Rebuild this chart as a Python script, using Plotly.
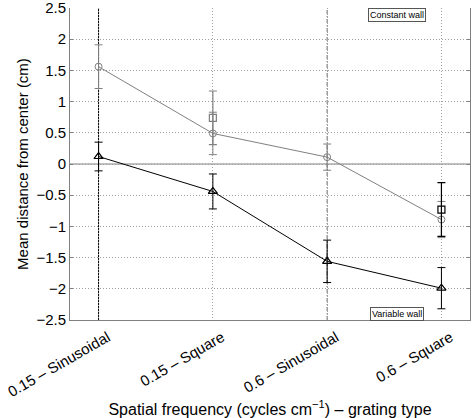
import plotly.graph_objects as go

categories = ["0.15 – Sinusoidal", "0.15 – Square", "0.6 – Sinusoidal", "0.6 – Square"]
x_pos = [1, 2, 3, 4]

constant_wall = [1.56, 0.49, 0.11, -0.89]
constant_err = [0.35, 0.34, 0.21, 0.29]

variable_wall = [0.12, -0.44, -1.56, -1.99]
variable_err = [0.23, 0.28, 0.34, 0.33]

square_x = [2, 4]
square_y = [0.74, -0.73]
square_err = [0.43, 0.43]
square_colors = ["#808080", "#000000"]

y_ticks = [-2.5, -2, -1.5, -1, -0.5, 0, 0.5, 1, 1.5, 2, 2.5]
y_ticktext = ["\u22122.5", "\u22122", "\u22121.5", "\u22121", "\u22120.5", "0", "0.5", "1", "1.5", "2", "2.5"]

GRAY = "#808080"
FONT = "Liberation Sans, Arial, sans-serif"
FS = 15

fig = go.Figure()

# highlighted vertical lines
fig.add_shape(type="line", x0=1, x1=1, y0=-2.5, y1=2.5, xref="x", yref="y",
              line=dict(color="black", width=1, dash="2px,1px"), layer="below")
fig.add_shape(type="line", x0=3, x1=3, y0=-2.5, y1=2.5, xref="x", yref="y",
              line=dict(color="#666666", width=1, dash="4px,2px,1px,2px"), layer="below")
# zero line
fig.add_shape(type="line", x0=0.75, x1=4.25, y0=0, y1=0, xref="x", yref="y",
              line=dict(color=GRAY, width=1), layer="below")

fig.add_trace(go.Scatter(
    x=x_pos, y=constant_wall, mode="lines+markers",
    line=dict(color=GRAY, width=1),
    marker=dict(symbol="circle-open", size=7, color=GRAY, line=dict(width=1)),
    error_y=dict(type="data", array=constant_err, color=GRAY, thickness=1, width=4),
    showlegend=False,
))
fig.add_trace(go.Scatter(
    x=x_pos, y=variable_wall, mode="lines+markers",
    line=dict(color="black", width=1),
    marker=dict(symbol="triangle-up-open", size=8, color="black", line=dict(width=1.2)),
    error_y=dict(type="data", array=variable_err, color="black", thickness=1, width=4),
    showlegend=False,
))
for sx, sy, se, sc in zip(square_x, square_y, square_err, square_colors):
    fig.add_trace(go.Scatter(
        x=[sx], y=[sy], mode="markers",
        marker=dict(symbol="square-open", size=7, color=sc, line=dict(width=1.2)),
        error_y=dict(type="data", array=[se], color=sc, thickness=1.2, width=4),
        showlegend=False,
    ))

fig.add_annotation(x=3.61, y=2.39, xref="x", yref="y", text="Constant wall",
                   showarrow=False, font=dict(size=9, color="black", family=FONT),
                   bgcolor="white", bordercolor="#555555", borderwidth=1, borderpad=1)
fig.add_annotation(x=3.61, y=-2.41, xref="x", yref="y", text="Variable wall",
                   showarrow=False, font=dict(size=9, color="black", family=FONT),
                   bgcolor="white", bordercolor="#555555", borderwidth=1, borderpad=1)

fig.update_layout(
    width=472, height=418,
    margin=dict(l=70, r=2, t=8, b=98),
    paper_bgcolor="white", plot_bgcolor="white",
    font=dict(family=FONT, size=FS, color="black"),
    xaxis=dict(
        range=[0.75, 4.25], tickmode="array", tickvals=x_pos, ticktext=categories,
        tickangle=-30, showgrid=True, gridcolor="#a0a0a0", griddash="1px,2px", gridwidth=1,
        showline=True, linecolor=GRAY, linewidth=1, mirror=False,
        ticks="", zeroline=False, automargin=False, ticklabeloverflow="allow",
        ticklabelshift=9, ticklabelstandoff=2,
        tickfont=dict(size=FS),
        title=dict(text="Spatial frequency (cycles cm<sup>\u22121</sup>) \u2013 grating type",
                   font=dict(size=16), standoff=0),
    ),
    yaxis=dict(
        range=[-2.5, 2.5], tickmode="array", tickvals=y_ticks, ticktext=y_ticktext,
        showgrid=True, gridcolor="#a0a0a0", griddash="1px,2px", gridwidth=1,
        showline=True, linecolor=GRAY, linewidth=1, mirror="ticks",
        ticks="inside", ticklen=3, tickcolor=GRAY, zeroline=False,
        automargin=False, ticklabeloverflow="allow",
        tickfont=dict(size=FS),
        title=dict(text="Mean distance from center (cm)", font=dict(size=FS), standoff=4),
    ),
)

fig.write_html("out.html", config={"displayModeBar": False},
               post_script="document.body.style.margin='0';")
